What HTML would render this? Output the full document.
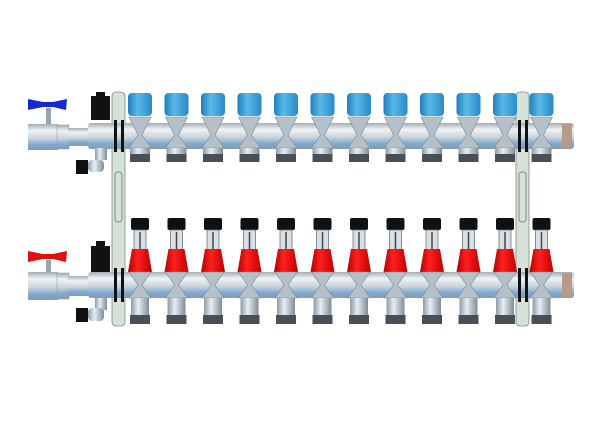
<!DOCTYPE html>
<html><head><style>html,body{margin:0;padding:0;background:#fff;width:600px;height:421px;overflow:hidden}</style></head>
<body>
<svg width="600" height="421" viewBox="0 0 600 421" xmlns="http://www.w3.org/2000/svg">
<defs>
<linearGradient id="pipe" x1="0" y1="0" x2="0" y2="1">
<stop offset="0" stop-color="#a4adb5"/><stop offset="0.25" stop-color="#eef3f6"/><stop offset="0.55" stop-color="#ccd4da"/><stop offset="0.8" stop-color="#7aaad6"/><stop offset="1" stop-color="#8e9aa4"/></linearGradient>
<linearGradient id="blue" x1="0" y1="0" x2="1" y2="0">
<stop offset="0" stop-color="#1f7fbf"/><stop offset="0.4" stop-color="#5ab8e8"/><stop offset="1" stop-color="#2a8ac8"/></linearGradient>
<linearGradient id="red" x1="0" y1="0" x2="1" y2="0">
<stop offset="0" stop-color="#b00000"/><stop offset="0.4" stop-color="#ff2020"/><stop offset="1" stop-color="#c00000"/></linearGradient>
<linearGradient id="vpipe" x1="0" y1="0" x2="1" y2="0">
<stop offset="0" stop-color="#8e9aa4"/><stop offset="0.4" stop-color="#e6eef4"/><stop offset="1" stop-color="#7f8c98"/></linearGradient>
<g id="topc">
<rect x="-12" y="93" width="24" height="23" rx="4" fill="url(#blue)"/>
<path d="M-11 117 L11 117 L2 135 L11 148 L-11 148 L-2 135Z" fill="#b6c0c8" stroke="#7c8790" stroke-width="0.6"/>
<rect x="-10" y="148" width="20" height="6" fill="url(#vpipe)"/>
<rect x="-10" y="154" width="20" height="8" fill="#4a4f55"/>
</g>
<g id="botc">
<rect x="-9" y="218" width="18" height="12" rx="2" fill="#111"/>
<rect x="-6" y="230" width="12" height="22" fill="#d8e0e6" stroke="#6a7580" stroke-width="0.8"/>
<line x1="0" y1="232" x2="0" y2="250" stroke="#444" stroke-width="1.5"/>
<path d="M-8 249 L8 249 L12 272 L-12 272Z" fill="url(#red)"/>
<path d="M-11 272 L11 272 L2 285 L11 298 L-11 298 L-2 285Z" fill="#b6c0c8" stroke="#7c8790" stroke-width="0.6"/>
<rect x="-9" y="298" width="18" height="17" fill="url(#vpipe)"/>
<rect x="-10" y="315" width="20" height="9" fill="#4a4f55"/>
</g>
</defs>
<rect x="112" y="92" width="13" height="234" rx="4" fill="#d6e2d8" stroke="#7d8a84" stroke-width="0.8"/>
<rect x="516" y="92" width="13" height="234" rx="4" fill="#d6e2d8" stroke="#7d8a84" stroke-width="0.8"/>
<!-- top bar -->
<rect x="28" y="124" width="30" height="26" fill="url(#pipe)"/>
<rect x="57" y="125" width="12" height="24" fill="url(#pipe)" stroke="#8a96a0" stroke-width="0.5"/>
<rect x="46" y="108" width="5" height="16" fill="#9aa4ac"/>
<path d="M28 99 L43 102 L53 102 L67 99 L66 110 L53 107 L43 107 L28 110Z" fill="#1428d8"/>
<rect x="68" y="128" width="22" height="18" fill="url(#pipe)"/>
<rect x="88" y="123" width="486" height="26" rx="3" fill="url(#pipe)"/>
<rect x="562" y="124" width="10" height="24" fill="#b89a88"/>
<rect x="91" y="96" width="19" height="24" fill="#111"/>
<rect x="96" y="92" width="9" height="5" fill="#111"/>
<rect x="95" y="148" width="12" height="12" fill="url(#vpipe)"/>
<rect x="76" y="160" width="12" height="14" fill="#111"/>
<rect x="88" y="160" width="16" height="12" rx="4" fill="url(#vpipe)"/>
<use href="#topc" x="140"/><use href="#topc" x="176.5"/><use href="#topc" x="213"/><use href="#topc" x="249.5"/><use href="#topc" x="286"/><use href="#topc" x="322.5"/><use href="#topc" x="359"/><use href="#topc" x="395.5"/><use href="#topc" x="432"/><use href="#topc" x="468.5"/><use href="#topc" x="505"/><use href="#topc" x="541.5"/>
<!-- bottom bar -->
<rect x="28" y="272" width="30" height="28" fill="url(#pipe)"/>
<rect x="57" y="273" width="12" height="26" fill="url(#pipe)" stroke="#8a96a0" stroke-width="0.5"/>
<rect x="46" y="260" width="5" height="13" fill="#9aa4ac"/>
<path d="M28 251 L43 254 L53 254 L67 251 L66 262 L53 259 L43 259 L28 262Z" fill="#e01010"/>
<rect x="68" y="276" width="22" height="20" fill="url(#pipe)"/>
<rect x="88" y="272" width="486" height="26" rx="3" fill="url(#pipe)"/>
<rect x="562" y="273" width="10" height="24" fill="#b89a88"/>
<rect x="91" y="246" width="19" height="26" fill="#111"/>
<rect x="96" y="241" width="9" height="6" fill="#111"/>
<rect x="95" y="298" width="12" height="12" fill="url(#vpipe)"/>
<rect x="76" y="308" width="12" height="14" fill="#111"/>
<rect x="88" y="308" width="16" height="13" rx="4" fill="url(#vpipe)"/>
<use href="#botc" x="140"/><use href="#botc" x="176.5"/><use href="#botc" x="213"/><use href="#botc" x="249.5"/><use href="#botc" x="286"/><use href="#botc" x="322.5"/><use href="#botc" x="359"/><use href="#botc" x="395.5"/><use href="#botc" x="432"/><use href="#botc" x="468.5"/><use href="#botc" x="505"/><use href="#botc" x="541.5"/>
<rect x="114" y="120" width="3" height="32" fill="#111"/><rect x="121" y="120" width="3" height="32" fill="#111"/>
<rect x="518" y="120" width="3" height="32" fill="#111"/><rect x="525" y="120" width="3" height="32" fill="#111"/>
<rect x="114" y="268" width="3" height="34" fill="#111"/><rect x="121" y="268" width="3" height="34" fill="#111"/>
<rect x="518" y="268" width="3" height="34" fill="#111"/><rect x="525" y="268" width="3" height="34" fill="#111"/>
<rect x="115" y="172" width="7" height="50" rx="3" fill="none" stroke="#7d8a84"/>
<rect x="519" y="172" width="7" height="50" rx="3" fill="none" stroke="#7d8a84"/>
</svg>
</body></html>
